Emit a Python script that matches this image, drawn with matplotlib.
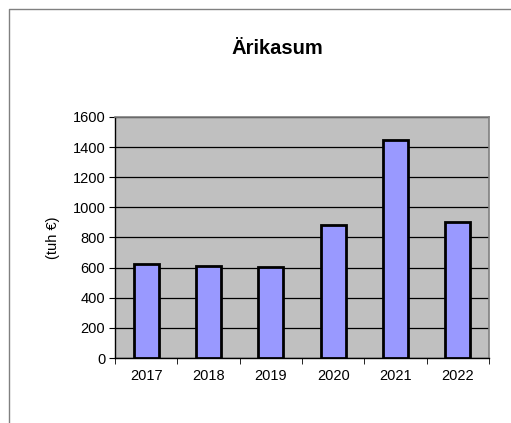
import numpy as np
import matplotlib
matplotlib.use('Agg')
import matplotlib.pyplot as plt
from matplotlib.lines import Line2D

years = ['2017', '2018', '2019', '2020', '2021', '2022']
values = [622, 613, 606, 883, 1445, 903]

plt.rcParams['font.family'] = ['Liberation Sans', 'DejaVu Sans']

fig = plt.figure(figsize=(5.11, 4.23), dpi=100)
W, H = 511, 423
# chart area border: only left and top edges are visible
fig.lines.append(Line2D([8.5 / W, 8.5 / W, 1.0], [0.0, 1 - 9.5 / H, 1 - 9.5 / H],
                        transform=fig.transFigure, color='#808080', linewidth=1.0))

ax = fig.add_axes([115 / W, (H - 358) / H, (489 - 115) / W, (358 - 117) / H])
ax.set_facecolor('#c0c0c0')

x = np.arange(len(years))
ax.bar(x, values, width=0.4, color='#9999ff', edgecolor='black', linewidth=2, zorder=3)

ax.set_xlim(-0.5, len(years) - 0.5)
ax.set_ylim(0, 1600)
ax.set_yticks(np.arange(0, 1601, 200))
ax.yaxis.grid(True, color='black', linewidth=0.9, zorder=1)
ax.set_axisbelow(True)

ax.set_xticks(x)
ax.set_xticklabels(years)
ax.set_xticks(np.arange(-0.5, len(years), 1), minor=True)
ax.tick_params(axis='x', which='major', length=0, pad=8, labelsize=10.5)
ax.tick_params(axis='x', which='minor', length=4, direction='out')
ax.tick_params(axis='y', length=4, direction='out', labelsize=10.5, pad=3)

for s in ['top', 'right']:
    ax.spines[s].set_color('#808080')
    ax.spines[s].set_linewidth(1.2)
for s in ['left', 'bottom']:
    ax.spines[s].set_color('black')
    ax.spines[s].set_linewidth(1.0)

ax.set_ylabel('(tuh €)', fontsize=10.5, labelpad=9)
fig.text(277 / W, 1 - 48 / H, 'Ärikasum', ha='center', va='center',
         fontsize=14.5, fontweight='bold')

fig.savefig('out.png', dpi=100)
